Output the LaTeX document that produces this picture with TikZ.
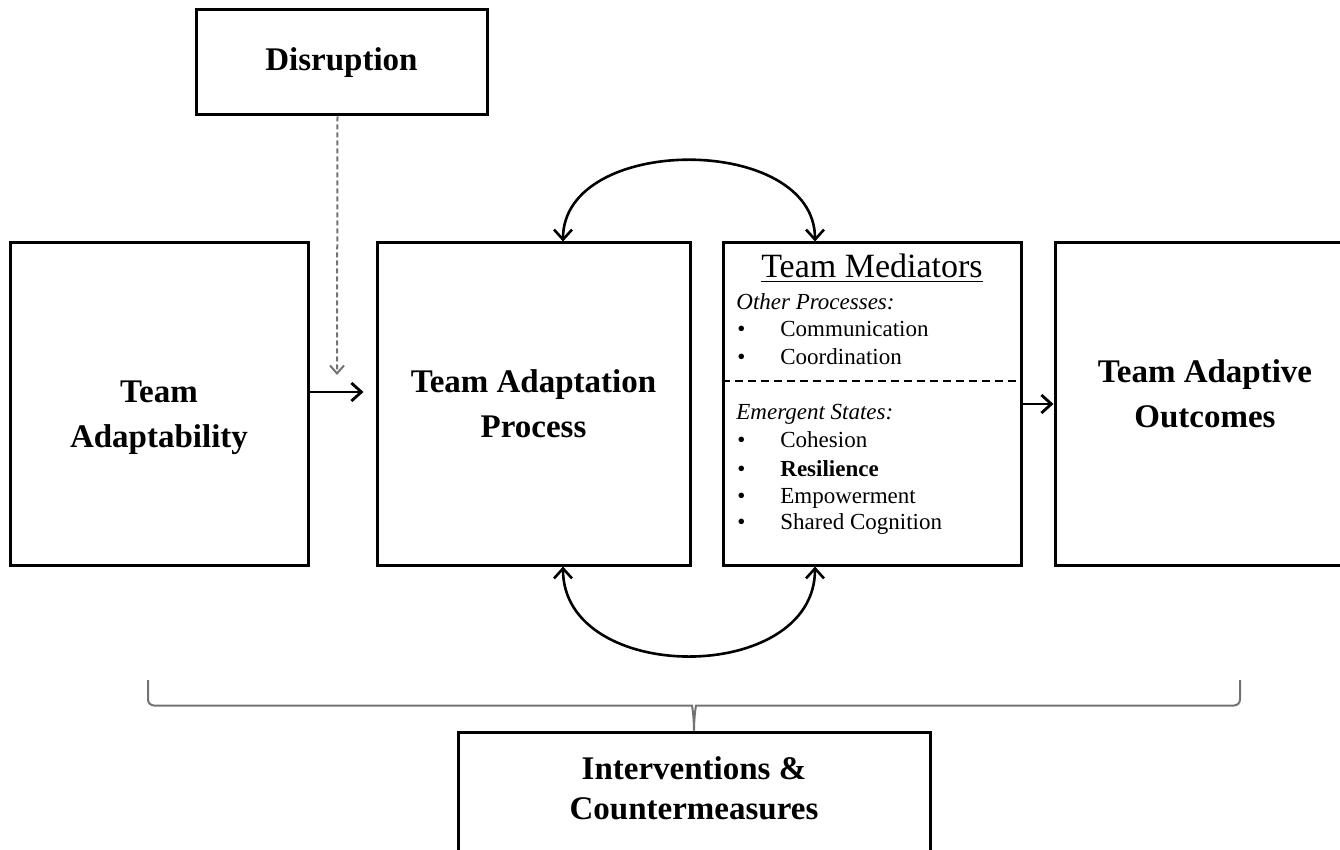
\documentclass[tikz,border=0pt]{standalone}
\usepackage{fontspec}
\setmainfont{Liberation Serif}
\usetikzlibrary{arrows.meta,calc}

\tikzset{
    box/.style={draw, line width=1.5pt, minimum width=149pt, minimum height=161pt, align=center, font=\bfseries\fontsize{16.5}{22.5}\selectfont},
    boxtext/.style={align=center, inner sep=0pt, font=\bfseries\fontsize{16.5}{22.5}\selectfont},
    item/.style={anchor=base west, inner sep=0pt, font=\fontsize{11.5}{13}\selectfont},
    link/.style={line width=1.4pt, ->},
    brace/.style={draw=black!55, line width=1pt, rounded corners=3pt},
}

\begin{document}
\begin{tikzpicture}[x=0.5pt, y=-0.5pt, >={Straight Barb[length=5pt, width=9pt]}]
        \useasboundingbox (0,0) rectangle (1340,850);
        \clip (0,0) rectangle (1340,850);

        \node[box, minimum width=145.5pt, minimum height=52.5pt] (disr) at (341.5,62.5) {Disruption};
        \node[box] (adapt) at (159,404) {};
        \node[boxtext] (adapttext) at ($(adapt)+(0,14)$) {Team\\Adaptability};
        \node[box, minimum width=156.5pt] (proc) at (533.5,404) {Team Adaptation\\Process};
        \node[box] (med) at (872,404) {};
        \node[box, minimum width=150pt] (outc) at (1205,404) {};
        \node[boxtext] (outctext) at ($(outc)+(0,-10)$) {Team Adaptive\\Outcomes};
        \node[box, minimum width=236pt, minimum height=63pt, font=\bfseries\fontsize{16.5}{20}\selectfont] (interv) at (694,795) {};
        \node[boxtext, font=\bfseries\fontsize{16.5}{20}\selectfont] (intervtext) at ($(interv)+(0,-7)$) {Interventions \&\\Countermeasures};

        \node[anchor=base, inner sep=0pt, font=\fontsize{17}{20}\selectfont] (medtitle) at (872,278) {\underline{Team Mediators}};
        \node[item, font=\itshape\fontsize{11.5}{13}\selectfont] (other) at (736,310) {Other Processes:};
        \node[item, font=\itshape\fontsize{11.5}{13}\selectfont] (emerg) at (736,420) {Emergent States:};
        \foreach \y/\t in {337/Communication, 365/Coordination, 448/Cohesion, 476/{\textbf{Resilience}}, 503/Empowerment, 530/Shared Cognition} {
            \node[item] at (737,\y) {\textbullet};
            \node[item] at (780,\y) {\t};
        }
        \draw[dashed, dash pattern=on 4pt off 2.5pt, line width=0.8pt] (med.west |- 0,381) -- (med.east |- 0,381);

        \coordinate (dtip) at (337,375);
        \draw[link, draw=black!55, line width=1pt, dash pattern=on 2.5pt off 1.5pt, >={Straight Barb[length=4pt, width=7pt]}] ($(disr.south)+(-4,0)$) -- (dtip);

        \draw[link] ($(adapt.east)+(0,-12)$) -- ($(proc.west)+(-12,-12)$);
        \draw[link] (med.east) -- (outc.west);

        \draw[line width=1.3pt, <->] ($(proc.north)+(29.5,0)$) .. controls +(0,-108) and +(0,-108) .. ($(med.north)+(-57,0)$);
        \draw[line width=1.3pt, <->] ($(proc.south)+(29.5,0)$) .. controls +(0,119) and +(0,119) .. ($(med.south)+(-57,0)$);

        \coordinate (bl) at (148,680);
        \coordinate (br) at (1240,680);
        \draw[brace] (bl) |- ($(interv.north)+(-8,-25)$) .. controls +(6,0) and +(0,-14) .. (interv.north);
        \draw[brace] (br) |- ($(interv.north)+(8,-25)$) .. controls +(-6,0) and +(0,-14) .. (interv.north);
    \end{tikzpicture}
\end{document}
